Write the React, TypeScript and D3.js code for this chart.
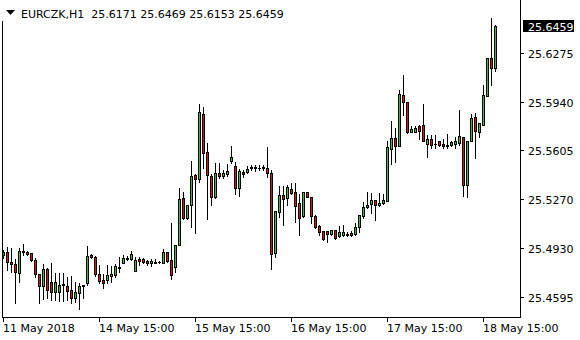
import React, { useEffect } from "react";
import * as d3 from "d3";

const opens = [25.4884,25.4905,25.4836,25.4822,25.4758,25.4905,25.4907,25.4896,25.4850,25.4753,25.4673,25.4786,25.4700,25.4627,25.4627,25.4685,25.4671,25.4643,25.4590,25.4621,25.4671,25.4689,25.4884,25.4872,25.4753,25.4712,25.4712,25.4740,25.4744,25.4802,25.4831,25.4859,25.4855,25.4776,25.4859,25.4857,25.4841,25.4827,25.4836,25.4834,25.4831,25.4905,25.4850,25.4804,25.4955,25.5275,25.5137,25.5226,25.5435,25.5408,25.5855,25.5591,25.5428,25.5282,25.5447,25.5430,25.5442,25.5529,25.5495,25.5343,25.5456,25.5454,25.5481,25.5480,25.5481,25.5487,25.5481,25.5447,25.4896,25.5182,25.5298,25.5275,25.5339,25.5316,25.5240,25.5155,25.5316,25.5286,25.5153,25.5084,25.5049,25.5049,25.5027,25.5054,25.5013,25.5022,25.5027,25.5036,25.5027,25.5075,25.5155,25.5213,25.5235,25.5263,25.5229,25.5240,25.5258,25.5612,25.5688,25.5637,25.5986,25.5936,25.5733,25.5733,25.5772,25.5779,25.5649,25.5685,25.5650,25.5668,25.5651,25.5642,25.5644,25.5646,25.5657,25.5695,25.5366,25.5668,25.5832,25.5729,25.5779,25.5981,25.6240,25.6171];
const highs = [25.4919,25.4939,25.4930,25.4857,25.4930,25.4958,25.4912,25.4900,25.4862,25.4753,25.4820,25.4793,25.4827,25.4758,25.4758,25.4758,25.4735,25.4740,25.4700,25.4693,25.4678,25.4946,25.4889,25.4877,25.4815,25.4751,25.4815,25.4811,25.4820,25.4872,25.4884,25.4875,25.4912,25.4867,25.4870,25.4864,25.4852,25.4857,25.4855,25.4845,25.4923,25.4907,25.5105,25.4953,25.5345,25.5316,25.5229,25.5531,25.5440,25.5924,25.5901,25.5653,25.5442,25.5516,25.5516,25.5469,25.5511,25.5635,25.5527,25.5474,25.5467,25.5495,25.5504,25.5502,25.5501,25.5501,25.5626,25.5469,25.5185,25.5359,25.5359,25.5366,25.5378,25.5378,25.5304,25.5316,25.5316,25.5286,25.5160,25.5091,25.5049,25.5049,25.5054,25.5054,25.5084,25.5091,25.5045,25.5049,25.5102,25.5158,25.5247,25.5316,25.5313,25.5263,25.5309,25.5304,25.5669,25.5807,25.5757,25.6020,25.6124,25.5936,25.5772,25.5772,25.5776,25.5924,25.5710,25.5710,25.5710,25.5670,25.5685,25.5717,25.5668,25.5699,25.5883,25.5700,25.5669,25.5855,25.5860,25.5791,25.6055,25.6240,25.6514,25.6469];
const lows = [25.4864,25.4781,25.4769,25.4552,25.4700,25.4884,25.4884,25.4843,25.4735,25.4552,25.4579,25.4586,25.4574,25.4574,25.4570,25.4570,25.4574,25.4556,25.4563,25.4512,25.4586,25.4678,25.4862,25.4740,25.4689,25.4655,25.4689,25.4700,25.4735,25.4769,25.4827,25.4848,25.4850,25.4776,25.4815,25.4827,25.4815,25.4811,25.4827,25.4827,25.4827,25.4838,25.4721,25.4765,25.4953,25.5132,25.5132,25.5079,25.5034,25.5385,25.5485,25.5130,25.5229,25.5275,25.5416,25.5416,25.5428,25.5516,25.5302,25.5293,25.5423,25.5449,25.5472,25.5465,25.5466,25.5466,25.5419,25.4786,25.4868,25.5148,25.5091,25.5229,25.5304,25.5113,25.5022,25.5148,25.5286,25.5102,25.5068,25.5022,25.4988,25.4976,25.5022,25.4996,25.5010,25.5017,25.5017,25.5017,25.5022,25.5045,25.5137,25.5206,25.5171,25.5125,25.5222,25.5233,25.5258,25.5509,25.5527,25.5637,25.5848,25.5722,25.5729,25.5729,25.5685,25.5668,25.5561,25.5623,25.5623,25.5637,25.5619,25.5623,25.5637,25.5619,25.5642,25.5293,25.5286,25.5668,25.5550,25.5699,25.5779,25.5981,25.6055,25.6153];
const closes = [25.4905,25.4836,25.4819,25.4765,25.4912,25.4912,25.4889,25.4850,25.4751,25.4673,25.4786,25.4643,25.4632,25.4700,25.4678,25.4676,25.4638,25.4590,25.4632,25.4671,25.4676,25.4877,25.4868,25.4753,25.4705,25.4689,25.4746,25.4751,25.4808,25.4797,25.4862,25.4864,25.4889,25.4850,25.4845,25.4834,25.4827,25.4845,25.4829,25.4836,25.4905,25.4845,25.4744,25.4951,25.5270,25.5137,25.5229,25.5428,25.5405,25.5867,25.5589,25.5433,25.5286,25.5447,25.5428,25.5447,25.5460,25.5559,25.5343,25.5460,25.5444,25.5477,25.5490,25.5487,25.5485,25.5480,25.5447,25.4889,25.5185,25.5298,25.5272,25.5354,25.5313,25.5224,25.5137,25.5316,25.5286,25.5155,25.5079,25.5045,25.4992,25.5027,25.5054,25.4999,25.5043,25.5043,25.5020,25.5020,25.5077,25.5158,25.5213,25.5229,25.5263,25.5229,25.5244,25.5263,25.5626,25.5688,25.5637,25.5993,25.5940,25.5733,25.5750,25.5757,25.5740,25.5668,25.5685,25.5642,25.5647,25.5642,25.5637,25.5633,25.5660,25.5668,25.5704,25.5366,25.5669,25.5825,25.5740,25.5791,25.5986,25.6240,25.6170,25.6459];

const priceTicks = [25.6275, 25.5940, 25.5605, 25.5270, 25.4930, 25.4595];
const timeTickIndex = [0, 24, 48, 72, 96, 120];
const timeLabels = ["11 May 2018", "14 May 15:00", "15 May 15:00", "16 May 15:00", "17 May 15:00", "18 May 15:00"];
const symbol = "EURCZK,H1";

const W = 580, H = 340;
const FONT = "'DejaVu Sans', Verdana, sans-serif";
const BULL = "#2ec52e";
const BEAR = "#e01010";

export default function App() {
  useEffect(() => { document.body.style.margin = "0"; }, []);
  const n = closes.length;
  const x = d3.scaleLinear().domain([0, n - 1]).range([3, 3 + 4 * (n - 1)]);
  const y = d3.scaleLinear().domain([25.4595, 25.6275]).range([297, 53]);
  const py = (v: number) => Math.round(y(v));
  const last = closes[n - 1];
  const axisX = 520;
  const bottomY = 317;
  const fmt = d3.format(".4f");
  const title = `${symbol}  ${fmt(opens[n-1])} ${fmt(highs[n-1])} ${fmt(lows[n-1])} ${fmt(last)}`;

  const candles = d3.range(n).map((i) => {
    const c = Math.round(x(i));
    const o = py(opens[i]), cl = py(closes[i]), h = py(highs[i]), l = py(lows[i]);
    const top = Math.min(o, cl), bot = Math.max(o, cl);
    const bull = closes[i] >= opens[i];
    return (
      <g key={i}>
        <line x1={c + 0.5} x2={c + 0.5} y1={h} y2={l + 1} stroke="#000" strokeWidth={1} />
        {bot - top >= 2 ? (
          <rect x={c - 0.5} y={top + 0.5} width={2} height={bot - top} fill={bull ? BULL : BEAR} stroke="#000" strokeWidth={1} />
        ) : (
          <rect x={c - 1} y={top} width={3} height={bot - top + 1} fill="#000" />
        )}
      </g>
    );
  });

  return (
    <svg width={W} height={H} style={{ position: "absolute", left: 0, top: 0, display: "block", background: "#fff" }} fontFamily={FONT}>
      <rect x={0} y={0} width={W} height={H} fill="#fff" />
      {candles}
      {/* frame */}
      <line x1={2.5} x2={2.5} y1={0} y2={bottomY + 0.5} stroke="#000" />
      <line x1={2} x2={axisX + 1} y1={bottomY + 0.5} y2={bottomY + 0.5} stroke="#000" />
      <line x1={axisX + 0.5} x2={axisX + 0.5} y1={0} y2={bottomY + 1} stroke="#000" />
      {/* title */}
      <rect x={0} y={0} width={292} height={21} fill="#fff" />
      <path d="M6,10 L15,10 L10.5,15 Z" fill="#000" />
      <text x={21} y={17.5} fontSize={11} fill="#000" style={{ whiteSpace: "pre" }}>{title}</text>
      {/* price axis */}
      {priceTicks.map((t) => (
        <g key={t}>
          <line x1={axisX + 1} x2={axisX + 4} y1={py(t) + 0.5} y2={py(t) + 0.5} stroke="#000" />
          <text x={528} y={py(t) + 4.5} fontSize={11} fill="#000">{fmt(t)}</text>
        </g>
      ))}
      <rect x={523} y={py(last) - 6} width={51} height={12} fill="#000" />
      <text x={528} y={py(last) + 4.5} fontSize={11} fill="#fff">{fmt(last)}</text>
      {/* time axis */}
      {timeTickIndex.map((ti, k) => {
        const c = Math.round(x(ti));
        return (
          <g key={ti}>
            <line x1={c + 0.5} x2={c + 0.5} y1={bottomY + 1} y2={bottomY + 5} stroke="#000" />
            <text x={c} y={332} fontSize={11} fill="#000">{timeLabels[k]}</text>
          </g>
        );
      })}
    </svg>
  );
}
